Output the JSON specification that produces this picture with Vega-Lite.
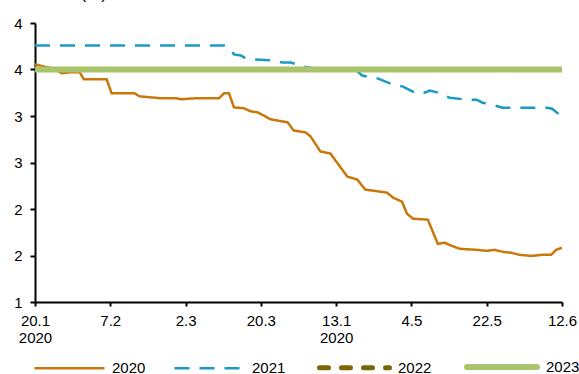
{
  "$schema": "https://vega.github.io/schema/vega-lite/v6.json",
  "width": 527,
  "height": 279,
  "autosize": {"type": "none"},
  "padding": {"left": 35, "top": 23, "right": 17, "bottom": 72},
  "background": "white",
  "config": {
    "view": {"stroke": null},
    "font": "Liberation Sans",
    "axis": {"grid": false, "domainColor": "black", "domainWidth": 2, "tickColor": "black", "tickWidth": 2, "tickSize": 5, "labelColor": "black", "labelFontSize": 15, "labelFont": "Liberation Sans"}
  },
  "data": {
    "values": [
      {"s": "2020", "x": 0, "v": 3.557},
      {"s": "2020", "x": 0.092, "v": 3.536},
      {"s": "2020", "x": 0.225, "v": 3.514},
      {"s": "2020", "x": 0.357, "v": 3.46},
      {"s": "2020", "x": 0.489, "v": 3.471},
      {"s": "2020", "x": 0.594, "v": 3.471},
      {"s": "2020", "x": 0.647, "v": 3.396},
      {"s": "2020", "x": 0.951, "v": 3.396},
      {"s": "2020", "x": 1.017, "v": 3.245},
      {"s": "2020", "x": 1.321, "v": 3.245},
      {"s": "2020", "x": 1.387, "v": 3.212},
      {"s": "2020", "x": 1.546, "v": 3.2},
      {"s": "2020", "x": 1.678, "v": 3.19},
      {"s": "2020", "x": 1.876, "v": 3.19},
      {"s": "2020", "x": 1.942, "v": 3.18},
      {"s": "2020", "x": 2.114, "v": 3.19},
      {"s": "2020", "x": 2.444, "v": 3.19},
      {"s": "2020", "x": 2.51, "v": 3.245},
      {"s": "2020", "x": 2.576, "v": 3.245},
      {"s": "2020", "x": 2.642, "v": 3.093},
      {"s": "2020", "x": 2.774, "v": 3.083},
      {"s": "2020", "x": 2.867, "v": 3.05},
      {"s": "2020", "x": 2.959, "v": 3.039},
      {"s": "2020", "x": 3.131, "v": 2.964},
      {"s": "2020", "x": 3.355, "v": 2.932},
      {"s": "2020", "x": 3.435, "v": 2.845},
      {"s": "2020", "x": 3.593, "v": 2.824},
      {"s": "2020", "x": 3.659, "v": 2.781},
      {"s": "2020", "x": 3.791, "v": 2.619},
      {"s": "2020", "x": 3.923, "v": 2.597},
      {"s": "2020", "x": 4.148, "v": 2.349},
      {"s": "2020", "x": 4.28, "v": 2.317},
      {"s": "2020", "x": 4.386, "v": 2.209},
      {"s": "2020", "x": 4.676, "v": 2.176},
      {"s": "2020", "x": 4.756, "v": 2.122},
      {"s": "2020", "x": 4.875, "v": 2.079},
      {"s": "2020", "x": 4.941, "v": 1.95},
      {"s": "2020", "x": 5.02, "v": 1.896},
      {"s": "2020", "x": 5.218, "v": 1.885},
      {"s": "2020", "x": 5.284, "v": 1.755},
      {"s": "2020", "x": 5.35, "v": 1.626},
      {"s": "2020", "x": 5.443, "v": 1.637},
      {"s": "2020", "x": 5.535, "v": 1.604},
      {"s": "2020", "x": 5.641, "v": 1.572},
      {"s": "2020", "x": 5.865, "v": 1.561},
      {"s": "2020", "x": 5.997, "v": 1.55},
      {"s": "2020", "x": 6.103, "v": 1.561},
      {"s": "2020", "x": 6.209, "v": 1.54},
      {"s": "2020", "x": 6.328, "v": 1.529},
      {"s": "2020", "x": 6.433, "v": 1.507},
      {"s": "2020", "x": 6.592, "v": 1.496},
      {"s": "2020", "x": 6.737, "v": 1.507},
      {"s": "2020", "x": 6.856, "v": 1.507},
      {"s": "2020", "x": 6.922, "v": 1.561},
      {"s": "2020", "x": 7.0, "v": 1.583},
      {"s": "2021", "x": 0, "v": 3.759},
      {"s": "2021", "x": 2.51, "v": 3.759},
      {"s": "2021", "x": 2.602, "v": 3.716},
      {"s": "2021", "x": 2.642, "v": 3.662},
      {"s": "2021", "x": 2.734, "v": 3.651},
      {"s": "2021", "x": 2.801, "v": 3.619},
      {"s": "2021", "x": 2.906, "v": 3.608},
      {"s": "2021", "x": 3.17, "v": 3.597},
      {"s": "2021", "x": 3.289, "v": 3.575},
      {"s": "2021", "x": 3.395, "v": 3.575},
      {"s": "2021", "x": 3.487, "v": 3.554},
      {"s": "2021", "x": 3.567, "v": 3.532},
      {"s": "2021", "x": 3.725, "v": 3.51},
      {"s": "2021", "x": 4.254, "v": 3.5},
      {"s": "2021", "x": 4.346, "v": 3.435},
      {"s": "2021", "x": 4.558, "v": 3.402},
      {"s": "2021", "x": 4.69, "v": 3.359},
      {"s": "2021", "x": 4.756, "v": 3.337},
      {"s": "2021", "x": 4.888, "v": 3.316},
      {"s": "2021", "x": 5.02, "v": 3.262},
      {"s": "2021", "x": 5.112, "v": 3.273},
      {"s": "2021", "x": 5.178, "v": 3.251},
      {"s": "2021", "x": 5.244, "v": 3.273},
      {"s": "2021", "x": 5.35, "v": 3.251},
      {"s": "2021", "x": 5.509, "v": 3.197},
      {"s": "2021", "x": 5.733, "v": 3.175},
      {"s": "2021", "x": 5.865, "v": 3.175},
      {"s": "2021", "x": 5.945, "v": 3.143},
      {"s": "2021", "x": 6.077, "v": 3.121},
      {"s": "2021", "x": 6.209, "v": 3.089},
      {"s": "2021", "x": 6.803, "v": 3.089},
      {"s": "2021", "x": 6.869, "v": 3.078},
      {"s": "2021", "x": 7.0, "v": 2.991},
      {"s": "2022", "x": 0, "v": 3.5},
      {"s": "2022", "x": 7, "v": 3.5},
      {"s": "2023", "x": 0, "v": 3.5},
      {"s": "2023", "x": 7, "v": 3.5}
    ]
  },
  "mark": {"type": "line", "strokeCap": "butt"},
  "encoding": {
    "x": {
      "field": "x", "type": "quantitative",
      "scale": {"domain": [0, 7], "nice": false, "zero": false},
      "axis": {
        "title": null, "values": [0, 1, 2, 3, 4, 5, 6, 7], "tickSize": 4,
        "labelPadding": 7, "labelFlush": false, "labelLineHeight": 17,
        "labelExpr": "datum.value == 0 ? ['20.1','2020'] : datum.value == 4 ? ['13.1','2020'] : ['','7.2','2.3','20.3','','4.5','22.5','12.6'][datum.value]"
      }
    },
    "y": {
      "field": "v", "type": "quantitative",
      "scale": {"domain": [1, 4], "nice": false, "zero": false},
      "axis": {
        "values": [1, 1.5, 2, 2.5, 3, 3.5, 4], "format": ".0f", "labelPadding": 8,
        "title": "(%)", "titleAngle": 0, "titleAlign": "left", "titleBaseline": "alphabetic",
        "titleX": 45, "titleY": -25, "titleFontSize": 17, "titleFontWeight": "normal", "titleColor": "black"
      }
    },
    "color": {
      "field": "s", "type": "nominal",
      "scale": {"domain": ["2020", "2021", "2022", "2023"], "range": ["#C8780A", "#1B9AC6", "#7D6608", "#A9C46A"]},
      "legend": {
        "title": null, "orient": "none", "direction": "horizontal", "legendX": -2, "legendY": 306,
        "symbolType": "stroke", "symbolSize": 4900, "labelFontSize": 15, "labelColor": "black", "labelOffset": 6, "columnPadding": 23,
        "labelFont": "Liberation Sans",
        "encode": {"symbols": {"update": {"strokeCap": {"signal": "datum.value == '2022' || datum.value == '2023' ? 'round' : 'butt'"}}}}
      }
    },
    "strokeDash": {
      "field": "s", "type": "nominal",
      "scale": {"domain": ["2020", "2021", "2022", "2023"], "range": [[1, 0], [15, 10], [9, 13], [1, 0]]}
    },
    "strokeWidth": {
      "field": "s", "type": "nominal",
      "scale": {"type": "ordinal", "domain": ["2020", "2021", "2022", "2023"], "range": [2.5, 2.5, 5, 6]}
    }
  }
}
